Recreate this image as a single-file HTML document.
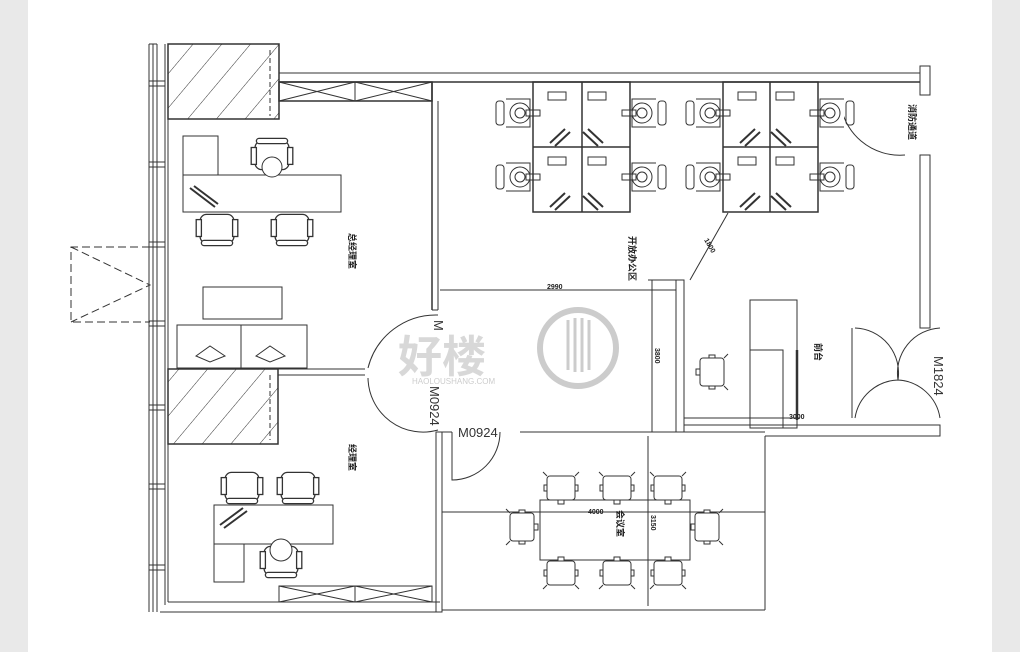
<!DOCTYPE html>
<html><head><meta charset="utf-8"><style>
html,body{margin:0;padding:0;width:1020px;height:652px;overflow:hidden;background:#e9e9e9}
#pg{position:absolute;left:28px;top:0;width:964px;height:652px;background:#fff}
svg{position:absolute;left:0;top:0}
text{font-family:"Liberation Sans","Noto Sans CJK SC",sans-serif}
</style></head><body>
<div id="pg"></div>
<svg width="1020" height="652" viewBox="0 0 1020 652">
<defs>
<pattern id="h" width="22" height="22" patternUnits="userSpaceOnUse" patternTransform="rotate(40)">
<line x1="0" y1="0" x2="0" y2="22" stroke="#333" stroke-width="1"/></pattern>
<g id="chair" fill="#fff" stroke="#333" stroke-width="1">
<rect x="-13" y="-12" width="26" height="22" rx="5"/>
<rect x="-16" y="-8" width="4" height="13"/><rect x="12" y="-8" width="4" height="13"/>
<rect x="-12" y="8" width="24" height="4" rx="2"/>
</g>
<g id="ws" fill="none" stroke="#333" stroke-width="1">
<path d="M-14 -14 L10 -14 L10 14 L-14 14" fill="#fff"/>
<circle cx="0" cy="0" r="10" fill="#fff"/><circle cx="0" cy="0" r="5"/>
<rect x="-24" y="-12" width="8" height="24" rx="3"/>
<rect x="6" y="-3" width="14" height="6"/>
</g>
<g id="mc" fill="#fff" stroke="#333" stroke-width="1">
<rect x="-14" y="-12" width="28" height="24" rx="3"/>
<rect x="-17" y="-3" width="3" height="6"/><rect x="14" y="-3" width="3" height="6"/>
<rect x="-3" y="12" width="6" height="4"/>
<path d="M-14 -12 l-4 -4 M14 -12 l4 -4"/>
</g>
</defs>
<g fill="none" stroke="#333" stroke-width="1">
<line x1="149" y1="44" x2="149" y2="612"/><line x1="153" y1="44" x2="153" y2="612"/>
<line x1="157" y1="44" x2="157" y2="612"/><line x1="165" y1="44" x2="165" y2="605"/><line x1="168" y1="119" x2="168" y2="602"/>
<line x1="149" y1="44" x2="157" y2="44"/>
<g><rect x="149" y="81" width="16" height="5"/><rect x="149" y="162" width="16" height="5"/><rect x="149" y="242" width="16" height="5"/><rect x="149" y="321" width="16" height="5"/><rect x="149" y="405" width="16" height="5"/><rect x="149" y="484" width="16" height="5"/><rect x="149" y="565" width="16" height="5"/></g>
<path d="M150 247 H71 V322 H150 M71 247 L150 285 L71 322" stroke-dasharray="8,4"/>
<rect x="168" y="44" width="111" height="75" fill="url(#h)" stroke-width="1.5"/>
<rect x="168" y="369" width="110" height="75" fill="url(#h)" stroke-width="1.5"/>
<line x1="270" y1="50" x2="270" y2="116" stroke-dasharray="5,3"/>
<line x1="270" y1="375" x2="270" y2="440" stroke-dasharray="5,3"/>
<line x1="279" y1="73" x2="920" y2="73"/><line x1="279" y1="82" x2="920" y2="82" stroke-width="1.5"/>
<rect x="920" y="66" width="10" height="29"/>
<rect x="279" y="82" width="153" height="19" stroke-width="1.5"/>
<line x1="355" y1="82" x2="355" y2="101"/>
<path d="M279 82 L355 101 M279 101 L355 82 M355 82 L432 101 M355 101 L432 82"/>
<line x1="432" y1="82" x2="432" y2="310" stroke-width="1.5"/><line x1="438" y1="101" x2="438" y2="310"/>
<line x1="432" y1="310" x2="438" y2="310"/>
<rect x="920" y="155" width="10" height="173"/>
<path d="M840 100 A60 60 0 0 0 905 155"/>
<path d="M855 328 A45 45 0 0 1 898 380 M940 328 A45 45 0 0 0 898 380 M855 418 A45 45 0 0 1 898 380 M940 418 A45 45 0 0 0 898 380"/>
<line x1="852" y1="328" x2="852" y2="418"/>
<path d="M684 425 H940 V436 H765 M684 432 H765 M765 436 V610"/>
<rect x="676" y="280" width="8" height="152"/>
<line x1="652" y1="280" x2="652" y2="432"/><line x1="648" y1="280" x2="676" y2="280"/>
<line x1="440" y1="290" x2="676" y2="290"/>
<line x1="728" y1="213" x2="690" y2="280"/>
<line x1="684" y1="418" x2="800" y2="418"/>
<rect x="750" y="300" width="47" height="128"/><rect x="750" y="350" width="33" height="78"/>
<line x1="797" y1="350" x2="797" y2="420" stroke-width="2.5"/>
<g transform="translate(712,372) rotate(90)"><use href="#mc"/></g>
<g stroke-width="1.5">
<rect x="533" y="82" width="97" height="130"/><line x1="582" y1="82" x2="582" y2="212"/><line x1="533" y1="147" x2="630" y2="147"/>
<rect x="723" y="82" width="95" height="130"/><line x1="770" y1="82" x2="770" y2="212"/><line x1="723" y1="147" x2="818" y2="147"/>
</g>
<path d="M550 143 l15 -14 M555 146 l15 -14 M598 146 l-15 -14 M603 143 l-15 -14 M550 207 l15 -14 M555 210 l15 -14 M598 210 l-15 -14 M603 207 l-15 -14 M740 143 l15 -14 M745 146 l15 -14 M786 146 l-15 -14 M791 143 l-15 -14 M740 207 l15 -14 M745 210 l15 -14 M786 210 l-15 -14 M791 207 l-15 -14" stroke-width="2"/>
<path d="M548 92 h18 v8 h-18z M588 92 h18 v8 h-18z M548 157 h18 v8 h-18z M588 157 h18 v8 h-18z M738 92 h18 v8 h-18z M776 92 h18 v8 h-18z M738 157 h18 v8 h-18z M776 157 h18 v8 h-18z"/>
<use href="#ws" x="520" y="113"/><use href="#ws" x="520" y="177"/>
<g transform="translate(642,113) scale(-1,1)"><use href="#ws"/></g><g transform="translate(642,177) scale(-1,1)"><use href="#ws"/></g>
<use href="#ws" x="710" y="113"/><use href="#ws" x="710" y="177"/>
<g transform="translate(830,113) scale(-1,1)"><use href="#ws"/></g><g transform="translate(830,177) scale(-1,1)"><use href="#ws"/></g>
<rect x="183" y="136" width="35" height="39"/><rect x="183" y="175" width="158" height="37"/>
<path d="M190 188 L215 207 M194 186 L218 204" stroke-width="2"/>
<g transform="translate(272,154) rotate(180) scale(1.3)"><use href="#chair"/></g><circle cx="272" cy="167" r="10" fill="#fff"/>
<g transform="translate(217,230) scale(1.3)"><use href="#chair"/></g><g transform="translate(292,230) scale(1.3)"><use href="#chair"/></g>
<rect x="203" y="287" width="79" height="32"/>
<rect x="177" y="325" width="130" height="43"/><line x1="241" y1="325" x2="241" y2="368"/>
<path d="M196 356 L210 346 L225 356 L210 362Z M256 356 L270 346 L285 356 L270 362Z"/>
<path d="M278 369 H365 M278 375 H365"/>
<path d="M438 315 A70 70 0 0 0 368 368 M438 430 A55 55 0 0 1 368 378"/>
<g transform="translate(242,488) scale(1.3)"><use href="#chair"/></g><g transform="translate(298,488) scale(1.3)"><use href="#chair"/></g>
<rect x="214" y="505" width="119" height="39"/><rect x="214" y="544" width="30" height="38"/>
<path d="M220 525 L243 508 M224 528 L247 511" stroke-width="2"/>
<g transform="translate(281,562) scale(1.3)"><use href="#chair"/></g><circle cx="281" cy="550" r="11" fill="#fff"/>
<path d="M160 612 H440 M168 602 H440"/>
<rect x="279" y="586" width="153" height="16"/><line x1="355" y1="586" x2="355" y2="602"/>
<path d="M279 586 L355 602 M279 602 L355 586 M355 586 L432 602 M355 602 L432 586"/>
<rect x="436" y="432" width="6" height="180"/>
<path d="M442 610 H765 M442 432 H452 M520 432 H765"/>
<path d="M452 432 V480 A48 48 0 0 0 500 432"/>
<line x1="442" y1="512" x2="765" y2="512"/><line x1="648" y1="436" x2="648" y2="606"/>
<rect x="540" y="500" width="150" height="60"/>
<use href="#mc" x="561" y="488"/><use href="#mc" x="617" y="488"/><use href="#mc" x="668" y="488"/>
<g transform="translate(561,573) rotate(180)"><use href="#mc"/></g><g transform="translate(617,573) rotate(180)"><use href="#mc"/></g><g transform="translate(668,573) rotate(180)"><use href="#mc"/></g>
<g transform="translate(522,527) rotate(-90)"><use href="#mc"/></g><g transform="translate(707,527) rotate(90)"><use href="#mc"/></g>
</g>
<g font-size="9" font-weight="bold" fill="#222">
<text transform="translate(349,233) rotate(90)">总经理室</text>
<text transform="translate(349,444) rotate(90)">经理室</text>
<text transform="translate(629,236) rotate(90)">开放办公区</text>
<text transform="translate(909,104) rotate(90)">消防通道</text>
<text transform="translate(815,343) rotate(90)">前台</text>
<text transform="translate(617,510) rotate(90)">会议室</text>
<text font-size="7" x="547" y="289">2990</text>
<text font-size="7" transform="translate(655,348) rotate(90)">3800</text>
<text font-size="7" transform="translate(704,240) rotate(60)">1800</text>
<text font-size="7" x="789" y="419">3000</text>
<text font-size="7" x="588" y="514">4000</text>
<text font-size="7" transform="translate(651,515) rotate(90)">3150</text>
</g>
<g font-size="13" fill="#333">
<text x="458" y="437">M0924</text>
<text transform="translate(430,386) rotate(90)">M0924</text>
<text transform="translate(934,356) rotate(90)">M1824</text>
<text transform="translate(434,320) rotate(90)">M</text>
</g>
<g opacity="0.75">
<circle cx="578" cy="348" r="38" fill="none" stroke="#bbb" stroke-width="6"/>
<path d="M568 320 V370 M575 318 V372 M582 318 V372 M589 320 V370" stroke="#bbb" stroke-width="3"/>
<text x="398" y="372" font-size="44" font-weight="bold" fill="#ccc">好楼</text>
<text x="412" y="384" font-size="8" fill="#bbb">HAOLOUSHANG.COM</text>
</g>
</svg>
</body></html>
